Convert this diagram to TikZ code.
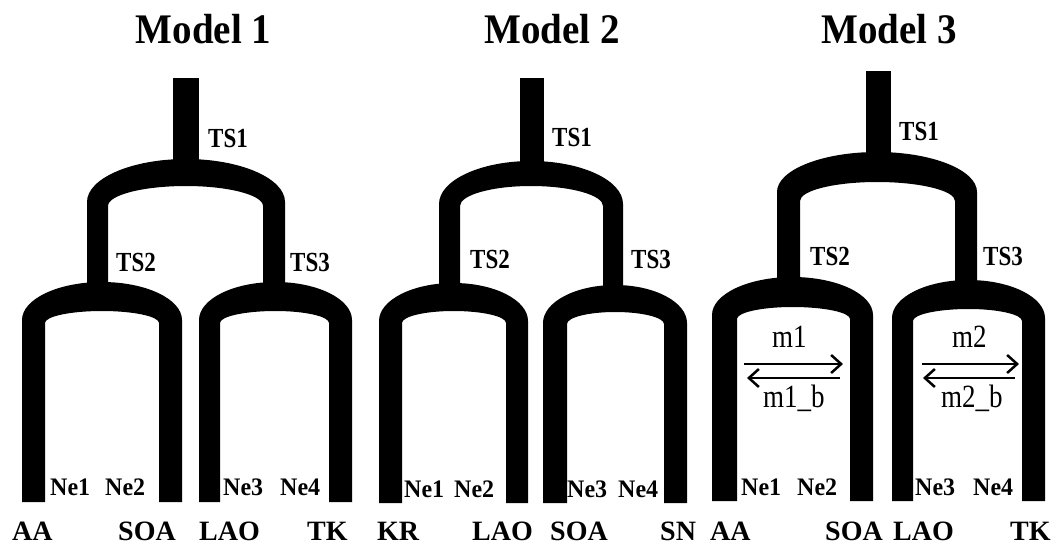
\documentclass[tikz,border=0pt]{standalone}
\usepackage{fontspec}
\setmainfont{Liberation Serif}
\usetikzlibrary{arrows.meta}
\newcommand\archshape[9]{%
\pgfmathsetmacro\aXm{(#1+#4)/2}%
\pgfmathsetmacro\aYco{#5+#8}%
\pgfmathsetmacro\aYci{#6+#9}%
\pgfmathsetmacro\aKo{#5+0.45*#8}%
\pgfmathsetmacro\aKi{#6+0.45*#9}%
\pgfmathsetmacro\aLoX{#1+0.45*(\aXm-#1)}%
\pgfmathsetmacro\aRoX{#4-0.45*(#4-\aXm)}%
\pgfmathsetmacro\aLiX{#2+0.45*(\aXm-#2)}%
\pgfmathsetmacro\aRiX{#3-0.45*(#3-\aXm)}%
\fill (#1,#7) -- (#1,\aYco) .. controls (#1,\aKo) and (\aLoX,#5) .. (\aXm,#5)
  .. controls (\aRoX,#5) and (#4,\aKo) .. (#4,\aYco) -- (#4,#7) -- (#3,#7) -- (#3,\aYci)
  .. controls (#3,\aKi) and (\aRiX,#6) .. (\aXm,#6) .. controls (\aLiX,#6) and (#2,\aKi) .. (#2,\aYci)
  -- (#2,#7) -- cycle;}
\tikzset{
  title/.style={font=\fontsize{39}{39}\selectfont\bfseries, anchor=base, inner sep=0pt, yscale=1.08},
  tslab/.style={font=\fontsize{23}{23}\selectfont\bfseries, anchor=base west, inner sep=0pt, yscale=1.2},
  nelab/.style={font=\fontsize{24}{24}\selectfont\bfseries, anchor=base west, inner sep=0pt, yscale=1.05},
  leaflab/.style={font=\fontsize{28}{28}\selectfont\bfseries, anchor=base west, inner sep=0pt, text depth=0pt},
  mlab/.style={font=\fontsize{27}{27}\selectfont, anchor=base west, inner sep=0pt, yscale=1.2},
  migr/.style={line width=2.5pt, -{Straight Barb[length=10pt,width=18pt,line width=2.5pt]}},
}
\begin{document}
\begin{tikzpicture}[x=1pt,y=-1pt]
\useasboundingbox (0,0) rectangle (1058,544);
% ---------- Model 1 ----------
\fill (173,78) rectangle (199,172);
\archshape{87}{108}{263}{285}{159}{186}{300}{43}{20}
\archshape{22}{45}{159}{182}{282}{311}{502}{38}{12}
\archshape{199}{220}{329}{352}{282}{311}{502}{38}{12}
% ---------- Model 2 ----------
\fill (520,78) rectangle (544,175);
\archshape{439}{460}{603}{623}{161}{186}{300}{43}{20}
\archshape{379}{402}{506}{528}{283}{311}{503}{38}{12}
\archshape{543}{567}{664}{687}{285}{312}{503}{38}{12}
% ---------- Model 3 ----------
\fill (866,71) rectangle (891,168);
\archshape{777}{800}{955}{977}{152}{182}{300}{40}{19}
\archshape{712}{737}{850}{873}{277}{307}{501}{38}{12}
\archshape{892}{913}{1022}{1045}{280}{309}{501}{38}{12}
% ---------- titles ----------
\node[title] (t1) at (203.5,43) {Model 1};
\node[title] (t2) at (552,43) {Model 2};
\node[title] (t3) at (889,43) {Model 3};
% ---------- TS labels ----------
\node[tslab] (a1) at (208,147) {TS1};
\node[tslab] (a2) at (116,271) {TS2};
\node[tslab] (a3) at (290,271) {TS3};
\node[tslab] (b1) at (552,146) {TS1};
\node[tslab] (b2) at (470,268) {TS2};
\node[tslab] (b3) at (631,268) {TS3};
\node[tslab] (c1) at (899,140) {TS1};
\node[tslab] (c2) at (810,265) {TS2};
\node[tslab] (c3) at (983,265) {TS3};
% ---------- Ne labels ----------
\node[nelab] (an1) at (50,495) {Ne1};
\node[nelab] (an2) at (105,495) {Ne2};
\node[nelab] (an3) at (223,495) {Ne3};
\node[nelab] (an4) at (280,495) {Ne4};
\node[nelab] (bn1) at (404,497) {Ne1};
\node[nelab] (bn2) at (454,497) {Ne2};
\node[nelab] (bn3) at (567,497) {Ne3};
\node[nelab] (bn4) at (618,497) {Ne4};
\node[nelab] (cn1) at (741,495) {Ne1};
\node[nelab] (cn2) at (797,495) {Ne2};
\node[nelab] (cn3) at (915,495) {Ne3};
\node[nelab] (cn4) at (973,495) {Ne4};
% ---------- leaf labels ----------
\node[leaflab] (al1) at (12,540) {AA};
\node[leaflab] (al2) at (118,540) {SOA};
\node[leaflab] (al3) at (199,540) {LAO};
\node[leaflab] (al4) at (307,540) {TK};
\node[leaflab] (bl1) at (377,540) {KR};
\node[leaflab] (bl2) at (472,540) {LAO};
\node[leaflab] (bl3) at (550,540) {SOA};
\node[leaflab] (bl4) at (660,540) {SN};
\node[leaflab] (cl1) at (710,540) {AA};
\node[leaflab] (cl2) at (825,540) {SOA};
\node[leaflab] (cl3) at (893,540) {LAO};
\node[leaflab] (cl4) at (1010,540) {TK};
% ---------- migration ----------
\node[mlab] (m1) at (772,347) {m1};
\node[mlab] (m1b) at (763,407) {m1\_b};
\node[mlab] (m2) at (952,347) {m2};
\node[mlab] (m2b) at (941,407) {m2\_b};
\coordinate (p1a) at (744,364); \coordinate (p1b) at (843,364);
\coordinate (q1a) at (840,378); \coordinate (q1b) at (747,378);
\coordinate (p2a) at (922,364); \coordinate (p2b) at (1019,364);
\coordinate (q2a) at (1015,378); \coordinate (q2b) at (923,378);
\draw[migr] (p1a) -- (p1b);
\draw[migr] (q1a) -- (q1b);
\draw[migr] (p2a) -- (p2b);
\draw[migr] (q2a) -- (q2b);
\end{tikzpicture}
\end{document}
